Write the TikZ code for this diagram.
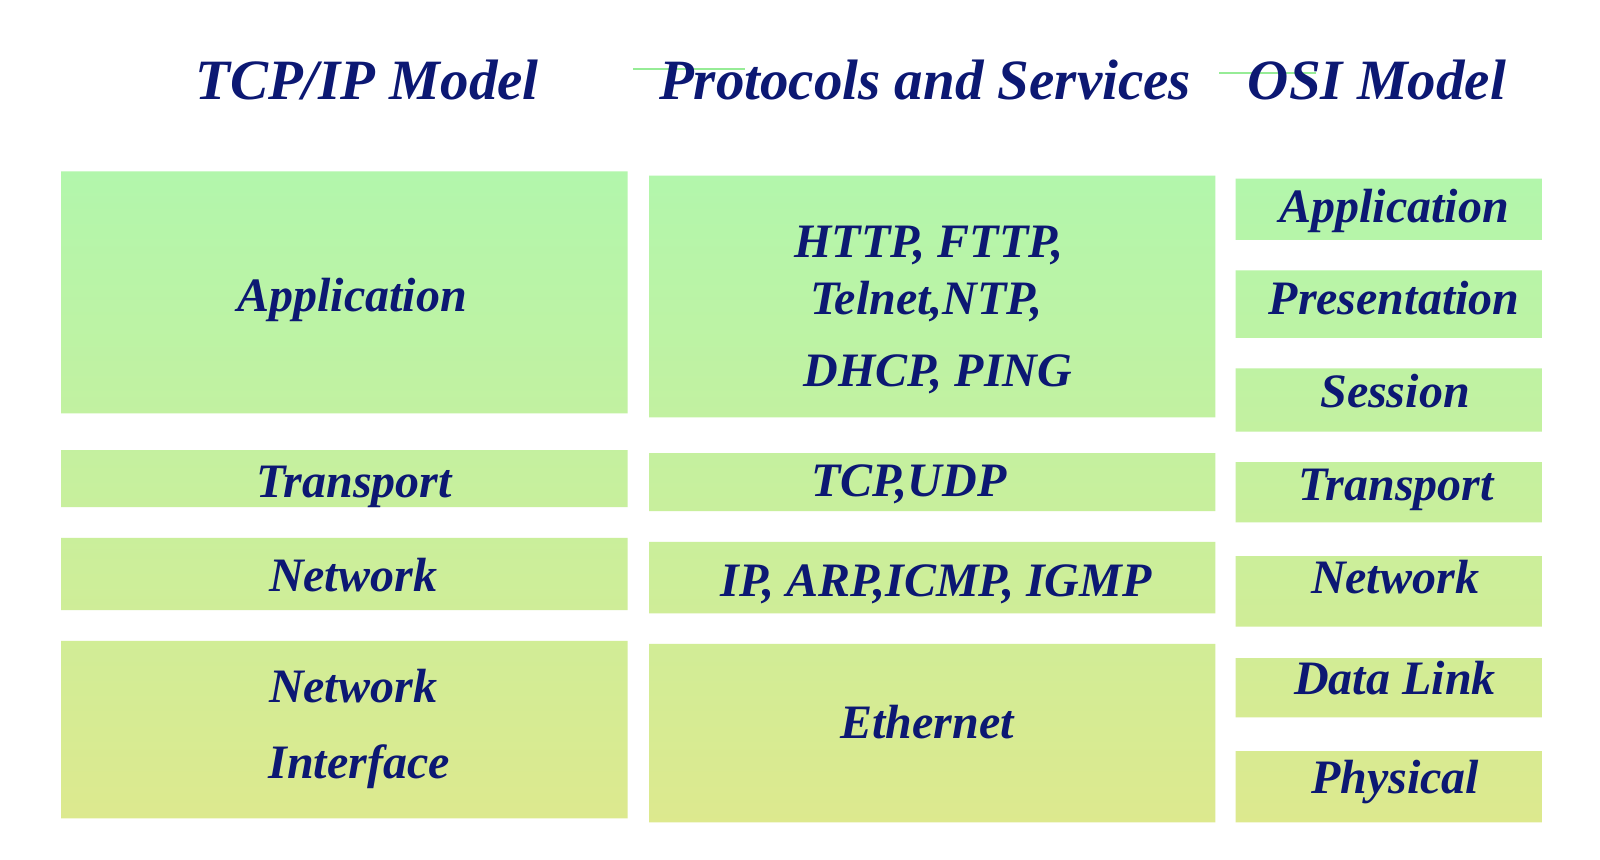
\documentclass[tikz,border=0pt]{standalone}
\usepackage{fontspec}
\setmainfont{Liberation Serif}
\usetikzlibrary{backgrounds}
\definecolor{navy}{RGB}{12,24,115}
\definecolor{gtop}{RGB}{178,246,172}
\definecolor{gbot}{RGB}{221,233,142}
\definecolor{lgreen}{RGB}{150,236,150}
\begin{document}
\begin{tikzpicture}[x=1pt,y=-1pt,
  box/.style={rectangle,draw=none,inner sep=0pt,outer sep=0pt},
  lbl/.style={anchor=base,inner sep=0pt,text=navy,font=\fontsize{48}{56}\selectfont\bfseries\itshape},
  ttl/.style={anchor=base,inner sep=0pt,text=navy,font=\fontsize{57}{64}\selectfont\bfseries\itshape}]
\useasboundingbox (0,0) rectangle (1600,859);
% boxes
\node[box,minimum width=566.4pt,minimum height=241.9pt] (tApp) at (344.4,292.4) {};
\node[box,minimum width=566.4pt,minimum height=57.1pt]  (tTra) at (344.4,478.6) {};
\node[box,minimum width=566.4pt,minimum height=72.4pt]  (tNet) at (344.4,574.0) {};
\node[box,minimum width=566.4pt,minimum height=177.6pt] (tNI)  at (344.4,729.6) {};
\node[box,minimum width=566.3pt,minimum height=241.8pt] (pApp) at (932.2,296.4) {};
\node[box,minimum width=566.3pt,minimum height=58.2pt]  (pTra) at (932.2,482.1) {};
\node[box,minimum width=566.3pt,minimum height=71.5pt]  (pNet) at (932.2,577.6) {};
\node[box,minimum width=566.3pt,minimum height=178.5pt] (pEth) at (932.2,733.2) {};
\node[box,minimum width=306.2pt,minimum height=61.2pt]  (oApp) at (1388.8,209.2) {};
\node[box,minimum width=306.2pt,minimum height=67.4pt]  (oPre) at (1388.8,304.1) {};
\node[box,minimum width=306.2pt,minimum height=63.2pt]  (oSes) at (1388.8,400.0) {};
\node[box,minimum width=306.2pt,minimum height=60.2pt]  (oTra) at (1388.8,492.3) {};
\node[box,minimum width=306.2pt,minimum height=70.4pt]  (oNet) at (1388.8,591.3) {};
\node[box,minimum width=306.2pt,minimum height=59.2pt]  (oDL)  at (1388.8,687.8) {};
\node[box,minimum width=306.2pt,minimum height=71.4pt]  (oPhy) at (1388.8,786.7) {};
\begin{scope}[on background layer]
  \fill[white] (0,0) rectangle (1600,859);
  \begin{scope}
  \clip (tApp.south west) rectangle (tApp.north east)
        (tTra.south west) rectangle (tTra.north east)
        (tNet.south west) rectangle (tNet.north east)
        (tNI.south west) rectangle (tNI.north east)
        (pApp.south west) rectangle (pApp.north east)
        (pTra.south west) rectangle (pTra.north east)
        (pNet.south west) rectangle (pNet.north east)
        (pEth.south west) rectangle (pEth.north east)
        (oApp.south west) rectangle (oApp.north east)
        (oPre.south west) rectangle (oPre.north east)
        (oSes.south west) rectangle (oSes.north east)
        (oTra.south west) rectangle (oTra.north east)
        (oNet.south west) rectangle (oNet.north east)
        (oDL.south west) rectangle (oDL.north east)
        (oPhy.south west) rectangle (oPhy.north east);
  \shade[top color=gtop,bottom color=gbot] (0,170) rectangle (1600,825);
  \end{scope}
  \coordinate (g1a) at (633,69); \coordinate (g1b) at (745,69);
  \coordinate (g2a) at (1219,73); \coordinate (g2b) at (1316,73);
  \draw[lgreen,line width=2pt] (g1a) -- (g1b);
  \draw[lgreen,line width=2pt] (g2a) -- (g2b);
\end{scope}
% titles
\node[ttl] (h1) at (367,99) {TCP/IP Model};
\node[ttl] (h2) at (925,99) {Protocols and Services};
\node[ttl] (h3) at (1377,99) {OSI Model};
% left labels
\node[lbl] (l1) at (352,311) {Application};
\node[lbl] (l2) at (354,497) {Transport};
\node[lbl] (l3) at (353,591) {Network};
\node[lbl] (l4) at (353,702) {Network};
\node[lbl] (l5) at (359,778) {Interface};
% middle labels
\node[lbl] (m1) at (929,257) {HTTP, FTTP,};
\node[lbl] (m2) at (926,314) {Telnet,NTP,};
\node[lbl] (m3) at (938,386) {DHCP, PING};
\node[lbl] (m4) at (909,496) {TCP,UDP};
\node[lbl] (m5) at (936,596) {IP, ARP,ICMP, IGMP};
\node[lbl] (m6) at (927,738) {Ethernet};
% right labels
\node[lbl] (r1) at (1394,222) {Application};
\node[lbl] (r2) at (1394,314) {Presentation};
\node[lbl] (r3) at (1395,407) {Session};
\node[lbl] (r4) at (1396,500) {Transport};
\node[lbl] (r5) at (1395,593) {Network};
\node[lbl] (r6) at (1395,694) {Data Link};
\node[lbl] (r7) at (1395,793) {Physical};
\end{tikzpicture}
\end{document}
